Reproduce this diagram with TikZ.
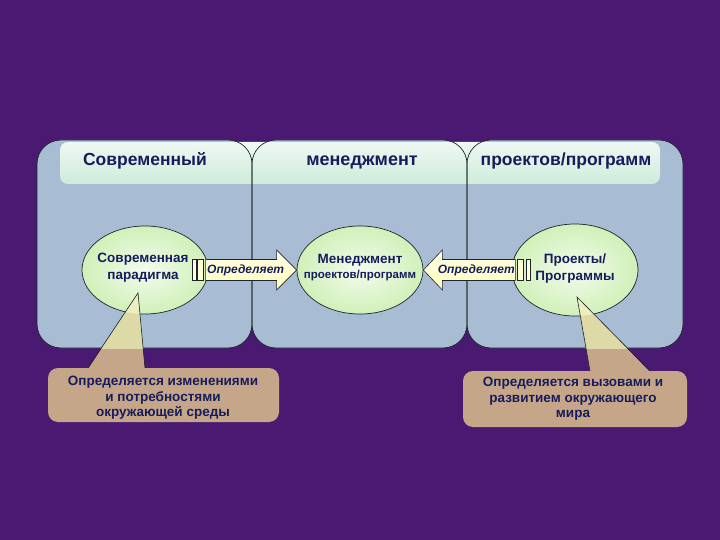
\documentclass[tikz,border=0pt]{standalone}
\usepackage{fontspec}
\setmainfont{Liberation Sans}
\usetikzlibrary{shapes.geometric,calc}
\definecolor{bgpurple}{RGB}{74,26,114}
\definecolor{panelblue}{RGB}{168,188,212}
\definecolor{headgreen}{RGB}{206,236,218}
\definecolor{ellgreen}{RGB}{208,240,184}
\definecolor{navy}{RGB}{22,28,92}
\definecolor{calltan}{RGB}{198,166,136}
\definecolor{khaki}{RGB}{222,218,168}
\definecolor{palekhaki}{RGB}{236,240,190}
\definecolor{arrowyellow}{RGB}{255,252,190}
\definecolor{linedark}{RGB}{28,36,44}
\tikzset{
  panel/.style={rounded corners=24pt},
  ell/.style={ellipse, minimum width=126pt, minimum height=88pt, inner sep=0pt,
    draw=linedark, line width=0.7pt, shading=radial,
    inner color=ellgreen!25!white, outer color=ellgreen},
  elltxt/.style={text=navy, align=center, inner sep=0pt, font=\bfseries\fontsize{13.5}{17}\selectfont},
  headtxt/.style={text=navy, font=\bfseries\fontsize{17.5}{20}\selectfont},
  arrowbody/.style={draw=linedark, line width=0.6pt, top color=arrowyellow!40!white, bottom color=arrowyellow},
  stripe/.style={draw=linedark, line width=0.6pt, fill=arrowyellow!60!white},
  arrowtxt/.style={text=navy, inner sep=0pt, font=\bfseries\itshape\fontsize{12}{14}\selectfont},
  calltxt/.style={text=navy, align=center, font=\bfseries\fontsize{13.5}{15.5}\selectfont},
  pointer/.style={draw=linedark, line width=0.6pt}
}
\begin{document}
\begin{tikzpicture}[x=1pt,y=-1pt]
\fill[bgpurple] (0,0) rectangle (720,540);
\useasboundingbox (0,0) rectangle (720,540);
% panels
\fill[panelblue,panel] (37,140) rectangle (252,348);
\fill[panelblue,panel] (252,140) rectangle (467,348);
\fill[panelblue,panel] (467,140) rectangle (683,348);
% header band
\shade[top color=headgreen!35!white, bottom color=headgreen, rounded corners=8pt] (60,142) rectangle (660,184);
% panel outlines
\draw[linedark,line width=0.7pt,panel] (37,140) rectangle (252,348);
\draw[linedark,line width=0.7pt,panel] (252,140) rectangle (467,348);
\draw[linedark,line width=0.7pt,panel] (467,140) rectangle (683,348);
% header texts
\node[headtxt] (h1) at (145,161) {Современный};
\node[headtxt, font=\bfseries\fontsize{18}{20}\selectfont] (h2) at (362,162) {менеджмент};
\node[headtxt] (h3) at (566,161) {проектов/программ};
% ellipses
\node[ell] (e1) at (145,270) {};
\node[ell] (e2) at (360,270) {};
\node[ell, minimum height=92pt] (e3) at (575,270) {};
\node[elltxt] (e1t) at (143,268) {Современная\\парадигма};
\node[elltxt, align=center] (e2t) at (360,268) {Менеджмент\\[-2pt]{\fontsize{11.5}{14}\selectfont проектов/программ}};
\node[elltxt] (e3t) at (575,269) {Проекты/\\Программы};
% left arrow
\coordinate (t1) at (e2.west);
\draw[arrowbody] ($(t1)+(-91,-10.5)$) -- ($(t1)+(-20,-10.5)$) -- ($(t1)+(-20,-20)$) -- (t1)
  -- ($(t1)+(-20,20)$) -- ($(t1)+(-20,10.5)$) -- ($(t1)+(-91,10.5)$) -- cycle;
\draw[stripe] ($(t1)+(-104,-10.5)$) rectangle ($(t1)+(-100,10.5)$);
\draw[stripe] ($(t1)+(-99,-10.5)$) rectangle ($(t1)+(-93,10.5)$);
\node[arrowtxt] (a1) at ($(t1)+(-51,0)$) {Определяет};
% right arrow
\coordinate (t2) at (e2.east);
\draw[arrowbody] ($(t2)+(92,-10.5)$) -- ($(t2)+(19,-10.5)$) -- ($(t2)+(19,-20)$) -- (t2)
  -- ($(t2)+(19,20)$) -- ($(t2)+(19,10.5)$) -- ($(t2)+(92,10.5)$) -- cycle;
\draw[stripe] ($(t2)+(94,-10.5)$) rectangle ($(t2)+(100,10.5)$);
\draw[stripe] ($(t2)+(103,-10.5)$) rectangle ($(t2)+(107,10.5)$);
\node[arrowtxt] (a2) at ($(t2)+(53,0)$) {Определяет};
% left callout
\coordinate (p1) at (138,293);
\fill[calltan, rounded corners=10pt] (48,368) rectangle (279,422);
\fill[calltan] (88,369) -- (p1) -- (145,369) -- cycle;
\begin{scope}
  \clip (0,0) rectangle (720,348);
  \fill[khaki] (88,369) -- (p1) -- (145,369) -- cycle;
  \clip (e1.center) ellipse [x radius=63, y radius=44];
  \fill[palekhaki] (88,369) -- (p1) -- (145,369) -- cycle;
\end{scope}
\draw[pointer] (88,368) -- (p1) -- (145,368);
\node[calltxt] (c1) at (163,398) {Определяется изменениями\\и потребностями\\окружающей среды};
% right callout
\coordinate (p2) at (577,297);
\fill[calltan, rounded corners=10pt] (463,371) rectangle (687,427);
\fill[calltan] (590,372) -- (p2) -- (650,372) -- cycle;
\begin{scope}
  \clip (0,0) rectangle (720,348);
  \fill[khaki] (590,372) -- (p2) -- (650,372) -- cycle;
  \clip (e3.center) ellipse [x radius=63, y radius=46];
  \fill[palekhaki] (590,372) -- (p2) -- (650,372) -- cycle;
\end{scope}
\draw[pointer] (590,371) -- (p2) -- (650,371);
\node[calltxt] (c2) at (573,399) {Определяется вызовами и\\развитием окружающего\\мира};
\end{tikzpicture}
\end{document}
